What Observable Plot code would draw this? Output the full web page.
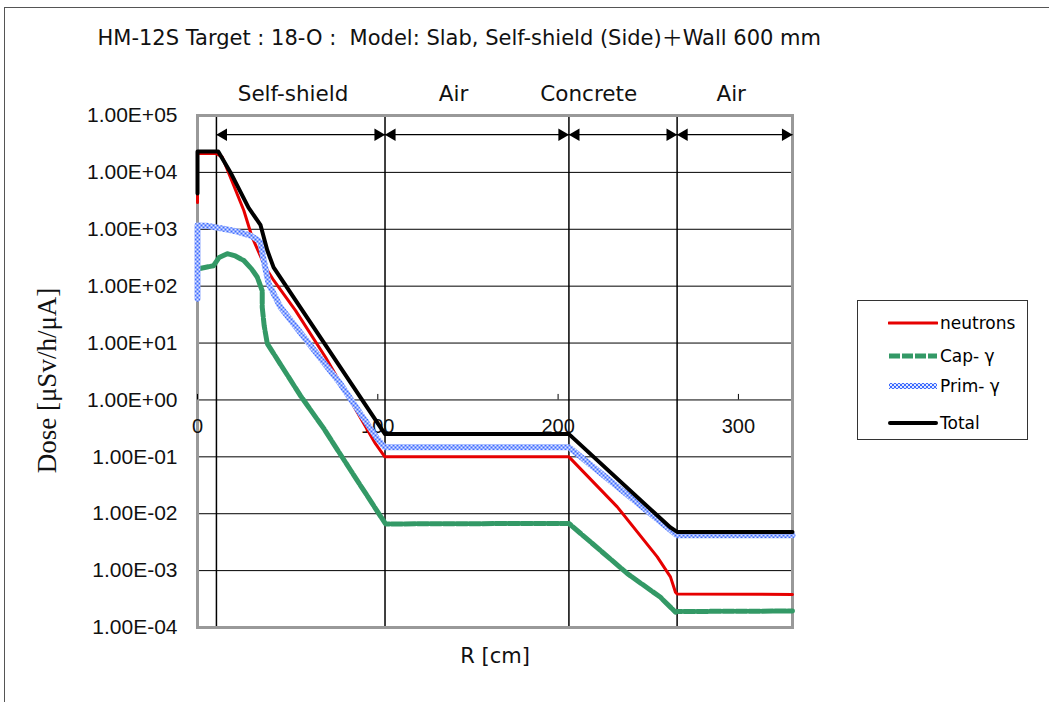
<!DOCTYPE html>
<html><head><meta charset="utf-8">
<script src="https://cdn.jsdelivr.net/npm/d3@7"></script>
<script src="https://cdn.jsdelivr.net/npm/@observablehq/plot@0.6"></script>
<style>
body{margin:0;background:#fff;width:1049px;height:702px;overflow:hidden;position:relative;font-family:"DejaVu Sans","Noto Sans CJK JP",sans-serif}
#border{position:absolute;left:4px;top:7px;width:1100px;height:800px;border-left:1.5px solid #555;border-top:1.5px solid #555}
#chart{position:absolute;left:0;top:0}
#legend{position:absolute;left:857px;top:300px;width:171px;height:140px;border:1.5px solid #333;background:#fff;box-sizing:border-box}
.row{position:absolute;left:30px;height:22px;display:flex;align-items:center;font-size:17px;color:#000}
.row svg{margin-right:2px}
</style></head><body>
<div id="border"></div>
<div id="chart"></div>
<div id="legend"></div>
<script>
// ---- data ----
const titleText = "HM-12S Target : 18-O :  Model: Slab, Self-shield (Side)＋Wall 600 mm";
const yLabel = "Dose [μSv/h/μA]";
const xLabel = "R [cm]";
const yTicks = [1e-4, 1e-3, 1e-2, 1e-1, 1e0, 1e1, 1e2, 1e3, 1e4, 1e5];
const xTicks = [0, 100, 200, 300];
const boundaries = [10.5, 104, 206, 266];
const arrowEdges = [10.5, 104, 206, 266, 330];
const regionNames = ["Self-shield", "Air", "Concrete", "Air"];
const regionLabelX = [53, 142, 217, 296];
const seriesNames = ["neutrons", "Cap- γ", "Prim- γ", "Total"];

const neutronsR    = [0, 0, 10.5, 13.7, 25.7, 30.3, 37.7, 42.3, 54.4, 71, 98.7, 103.9, 206, 232.8, 255, 262.3, 265.1, 266, 330];
const neutronsDose = [2.95e3, 2.14e4, 2.14e4, 1.86e4, 2.14e3, 7.24e2, 2.14e2, 1.26e2, 3.72e1, 5.62, 1.70e-1, 1.0e-1, 1.0e-1, 1.32e-2, 1.74e-3, 7.76e-4, 4.17e-4, 3.89e-4, 3.8e-4];

const capR    = [0, 8.9, 12, 16.5, 21, 25.7, 30, 33.1, 35.9, 35.9, 37, 38.7, 57, 70, 85, 104.3, 206, 238.3, 256.8, 265.1, 266, 330];
const capDose = [200, 229, 320, 372, 340, 282, 200, 145, 83.2, 42.7, 20, 9.8, 1.2, 0.316, 0.0575, 6.61e-3, 6.76e-3, 8.91e-4, 3.39e-4, 1.86e-4, 1.91e-4, 1.95e-4];

const primR    = [0, 0, 5, 14.4, 22, 29.4, 33, 34.9, 36.6, 39.5, 46, 79.3, 99.7, 103.9, 206, 266, 330];
const primDose = [60.3, 1.17e3, 1.15e3, 1.02e3, 912, 776, 661, 589, 295, 110, 42.7, 1.91, 0.209, 0.148, 0.148, 4.17e-3, 4.17e-3];

const totalR    = [0, 0, 11.5, 18.3, 28.3, 34.9, 38.7, 42.2, 104, 206, 252.9, 262.3, 266, 330];
const totalDose = [4.27e3, 2.34e4, 2.34e4, 1.0e4, 2.40e3, 1.20e3, 427, 214, 0.251, 0.251, 1.07e-2, 5.75e-3, 4.79e-3, 4.79e-3];

const arrowDose = 4.6e4;
const regionLabelDose = 2.4e5;
const xLabelDose = 1;

// ---- build ----
const rows = (xs, ys) => xs.map((r, i) => ({r, dose: ys[i]}));
const fmtE = d => { const e = Math.round(Math.log10(d)); return "1.00E" + (e < 0 ? "-" : "+") + String(Math.abs(e)).padStart(2, "0"); };
const arrows = arrowEdges.slice(0, -1).map((a, i) => ({x1: a, x2: arrowEdges[i + 1]}));
const regions = regionNames.map((n, i) => ({name: n, x: regionLabelX[i]}));
const sans = "'Liberation Sans', Arial, sans-serif";
const jp = "'DejaVu Sans', 'Noto Sans CJK JP', sans-serif";

const plot = Plot.plot({
  width: 1049, height: 702,
  marginLeft: 197, marginRight: 257, marginTop: 115, marginBottom: 75,
  x: {domain: [0, 330], axis: null},
  y: {type: "log", domain: [1e-4, 1e5]},
  marks: [
    Plot.ruleY(yTicks, {stroke: "#000", strokeWidth: 1}),
    Plot.ruleX(boundaries, {stroke: "#000", strokeWidth: 1.5}),
    Plot.axisY(yTicks, {tickSize: 0, tickPadding: 20, tickFormat: fmtE, fontSize: 21, fontFamily: sans, label: null, fill: "#111"}),
    Plot.frame({stroke: "#999", strokeWidth: 3}),
    Plot.ruleX(xTicks, {x: d => d, y1: xLabelDose, y2: xLabelDose * 1.25, stroke: "#000"}),
    Plot.text(xTicks, {x: d => d, y: xLabelDose, dy: 27, text: d => String(d), fontSize: 20, fontFamily: sans, fill: "#111"}),
    Plot.link(arrows, {x1: "x1", x2: "x2", y1: arrowDose, y2: arrowDose, stroke: "#000", strokeWidth: 1.2}),
    Plot.dot(arrows, {x: "x1", y: arrowDose, symbol: "triangle", r: 4.6, fill: "#000", rotate: -90, dx: 7}),
    Plot.dot(arrows, {x: "x2", y: arrowDose, symbol: "triangle", r: 4.6, fill: "#000", rotate: 90, dx: -7}),
    Plot.text(regions, {x: "x", y: regionLabelDose, text: "name", fontSize: 21.5, fontFamily: jp, fill: "#111"}),
    Plot.line(rows(neutronsR, neutronsDose), {x: "r", y: "dose", stroke: "#e60000", strokeWidth: 3, strokeLinejoin: "round"}),
    Plot.line(rows(capR, capDose), {x: "r", y: "dose", stroke: "#339966", strokeWidth: 5, strokeDasharray: "11,2"}),
    Plot.line(rows(primR, primDose), {x: "r", y: "dose", stroke: "url(#chk)", strokeWidth: 6}),
    Plot.line(rows(totalR, totalDose), {x: "r", y: "dose", stroke: "#000", strokeWidth: 4, strokeLinejoin: "round"}),
    Plot.text([titleText], {frameAnchor: "top-left", dx: -100, dy: -77, lineAnchor: "middle", textAnchor: "start", fontSize: 21, fontFamily: jp, fill: "#111"}),
    Plot.text([yLabel], {frameAnchor: "left", rotate: -90, textAnchor: "middle", dx: -150, dy: 9, fontSize: 27, fontFamily: "'Liberation Serif', 'DejaVu Serif', serif", fill: "#111"}),
    Plot.text([xLabel], {frameAnchor: "bottom", dy: 35, fontSize: 21, fontFamily: jp, fill: "#111"})
  ]
});

const svg = d3.select(plot);
const defs = svg.insert("defs", ":first-child");
const pat = defs.append("pattern").attr("id", "chk").attr("width", 4).attr("height", 4).attr("patternUnits", "userSpaceOnUse");
pat.append("rect").attr("width", 4).attr("height", 4).attr("fill", "#e2e9ff");
pat.append("rect").attr("width", 2).attr("height", 2).attr("fill", "#3d6bff");
pat.append("rect").attr("x", 2).attr("y", 2).attr("width", 2).attr("height", 2).attr("fill", "#3d6bff");
document.getElementById("chart").appendChild(plot);

// ---- legend ----
const swatches = [
  '<line x1="1" y1="6" x2="49" y2="6" stroke="#e60000" stroke-width="3" stroke-linecap="round"/>',
  '<line x1="1" y1="6" x2="49" y2="6" stroke="#339966" stroke-width="5" stroke-dasharray="11,2"/>',
  '<line x1="1" y1="6" x2="49" y2="6" stroke="url(#chk)" stroke-width="6"/>',
  '<line x1="2" y1="6" x2="48" y2="6" stroke="#000" stroke-width="4" stroke-linecap="round"/>'
];
const rowTops = [11, 44, 74, 111];
const legend = document.getElementById("legend");
seriesNames.forEach((n, i) => {
  const d = document.createElement("div");
  d.className = "row";
  d.style.top = rowTops[i] + "px";
  d.innerHTML = `<svg width="50" height="12">${swatches[i]}</svg><span>${n}</span>`;
  legend.appendChild(d);
});
</script></body></html>
